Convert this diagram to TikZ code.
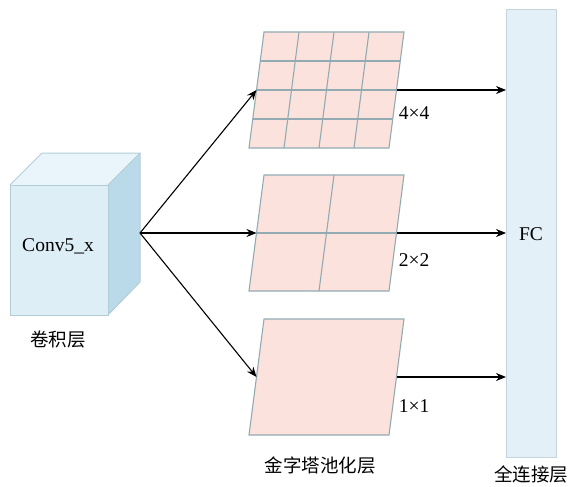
\documentclass[tikz,border=0pt]{standalone}
\usepackage{fontspec}
\setmainfont{Liberation Serif}
\newfontfamily\cjk{Noto Sans CJK SC}
\usetikzlibrary{arrows.meta}

\definecolor{cubefront}{HTML}{DDEEF6}
\definecolor{cubetop}{HTML}{EAF5FB}
\definecolor{cubeside}{HTML}{BBDAE9}
\definecolor{cubeedge}{HTML}{B4CCD6}
\definecolor{poolfill}{HTML}{FBE2DD}
\definecolor{pooledge}{HTML}{92ABB3}
\definecolor{fcfill}{HTML}{E3F0F7}
\definecolor{fcedge}{HTML}{C6D5DB}

\tikzset{
  lbl/.style={font=\fontsize{19.5}{21}\selectfont, inner sep=0pt},
  cjklbl/.style={font=\cjk\fontsize{18.5}{20}\selectfont, inner sep=0pt},
  arr/.style={-{Stealth[length=10pt,width=8pt]}, line width=1.1pt, black},
  pooledge/.style={draw=pooledge, line width=1.1pt},
}

% parallelogram grid: #1 = name, #2 = top-left x, #3 = top-left y, #4 = cells per side
\newcommand{\poolgrid}[4]{%
  \fill[poolfill] (#2,#3) -- ++(140,0) -- ++(-15,116) -- ++(-140,0) -- cycle;
  \ifnum#4>1
    \foreach \i in {1,...,\numexpr#4-1\relax}{
      \draw[pooledge] ({#2-15*\i/#4},{#3+116*\i/#4}) -- ++(140,0);
      \draw[pooledge] ({#2+140*\i/#4},#3) -- ++(-15,116);
    }
  \fi
  \draw[pooledge] (#2,#3) -- ++(140,0) -- ++(-15,116) -- ++(-140,0) -- cycle;
  \coordinate (#1in) at ({#2-7.5},{#3+58});
  \coordinate (#1out) at ({#2+132.5},{#3+58});
}

\begin{document}
\begin{tikzpicture}[x=1pt,y=-1pt]
\useasboundingbox (0,0) rectangle (570,487);

% convolution block drawn as a cube
\fill[cubeside] (108,185) -- (140,153) -- (140,282) -- (108,315) -- cycle;
\fill[cubetop] (10,185) -- (42,153) -- (140,153) -- (108,185) -- cycle;
\fill[cubefront] (10,185) rectangle (108,315);
\draw[cubeedge, line width=1pt] (10,185) rectangle (108,315);
\draw[cubeedge, line width=1pt] (10,185) -- (42,153) -- (140,153) -- (108,185);
\draw[cubeedge, line width=1pt] (140,153) -- (140,282) -- (108,315);
\node[lbl] (conv) at (58,246) {Conv5\_x};
\node[cjklbl] (convcap) at (58,340) {卷积层};
\coordinate (src) at (140,233);

% pyramid pooling grids
\poolgrid{pa}{264}{32}{4}
\poolgrid{pb}{264}{175}{2}
\poolgrid{pc}{264}{319}{1}
\node[lbl] (la) at (414,113) {4×4};
\node[lbl] (lb) at (414,260) {2×2};
\node[lbl] (lc) at (414,406) {1×1};
\node[cjklbl] (poolcap) at (320,465) {金字塔池化层};

% fully connected layer
\draw[fcedge, fill=fcfill, line width=1pt] (506,10) rectangle (556,457);
\node[lbl] (fc) at (531,234) {FC};
\node[cjklbl] (fccap) at (531,474) {全连接层};
\coordinate (fca) at (506,90);
\coordinate (fcb) at (506,233);
\coordinate (fcc) at (506,377);

% connectors
\draw[arr] (src) -- (pain);
\draw[arr] (src) -- (pbin);
\draw[arr] (src) -- (pcin);
\draw[arr] (paout) -- (fca);
\draw[arr] (pbout) -- (fcb);
\draw[arr] (pcout) -- (fcc);
\end{tikzpicture}
\end{document}
